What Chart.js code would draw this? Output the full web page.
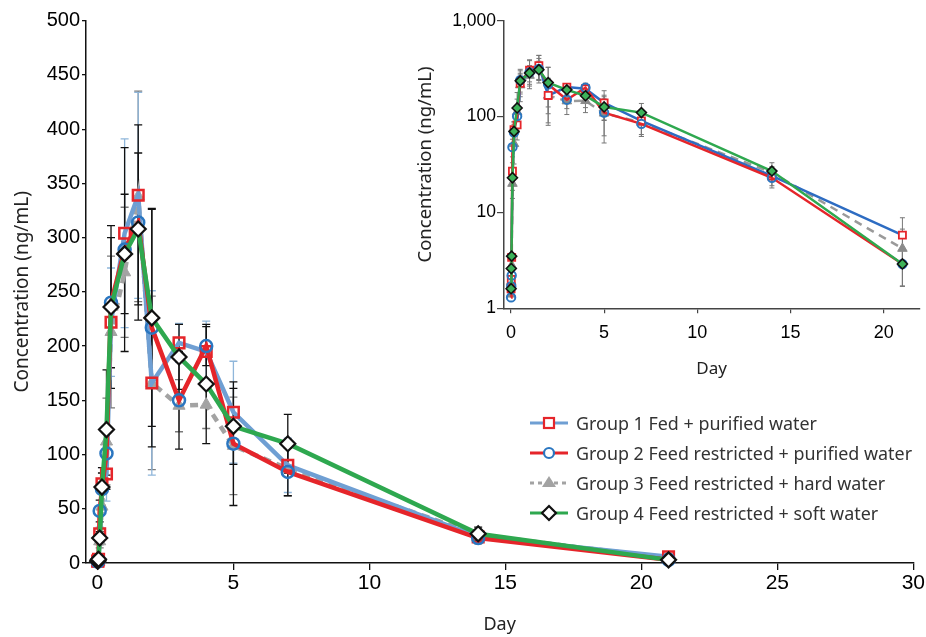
<!DOCTYPE html>
<html><head><meta charset="utf-8">
<script src="https://cdn.jsdelivr.net/npm/chart.js@4.4.1/dist/chart.umd.min.js"></script>
<style>
body{margin:0;background:#fff}
#wrap{position:relative;width:926px;height:637px;overflow:hidden}
#main{position:absolute;left:0;top:0}
#inset{position:absolute;left:400px;top:0}
#legend{position:absolute;left:530px;top:408px;font-family:'Noto Sans',sans-serif;font-size:17.9px;color:#333}
.row{height:30px;display:flex;align-items:center;white-space:nowrap}
.row svg{margin-right:8px;flex:none}
</style></head>
<body><div id="wrap">
<canvas id="main" width="926" height="637"></canvas>
<canvas id="inset" width="526" height="390"></canvas>
<div id="legend"></div>
</div>
<script>
// ---- data ----
const days = [0.0104, 0.0208, 0.0417, 0.0833, 0.1667, 0.3333, 0.5, 1, 1.5, 2, 3, 4, 5, 7, 14, 21];
const group1 = [1.6, 2.0, 3.4, 27, 73, 82, 222, 304, 339, 166, 203, 195, 139, 90, 24, 5.8];
const group2 = [1.3, 1.7, 2.2, 48, 68, 101, 240, 289, 314, 217, 150, 200, 110, 84, 23, 2.9];
const group3 = [1.4, 1.9, 2.8, 20, 52, 112, 213, 268, 338, 166, 145, 146, 108, 87, 26, 4.2];
const group4 = [1.6, 2.6, 3.5, 23, 70, 123, 236, 285, 308, 226, 190, 165, 126, 110, 27, 2.9];
const sd1 = [0.3, 0.4, 0.6, 6, 15, 25, 50, 87, 95, 85, 18, 28, 47, 25, 5, 3];
const sd2 = [0.2, 0.3, 0.5, 10, 15, 20, 60, 94, 90, 110, 45, 18, 57, 22, 5, 1.2];
const sd3 = [0.3, 0.4, 0.5, 6, 20, 40, 70, 60, 97, 80, 24, 22, 45, 25, 4, 2.5];
const sd4 = [0.3, 0.4, 0.6, 6, 18, 55, 75, 55, 70, 100, 30, 55, 35, 27, 6, 1.2];
const groupLabels = ['Group 1 Fed + purified water', 'Group 2 Feed restricted + purified water',
  'Group 3 Feed restricted + hard water', 'Group 4 Feed restricted + soft water'];
const mainXTicks = [0, 5, 10, 15, 20, 25, 30];
const mainYTicks = [0, 50, 100, 150, 200, 250, 300, 350, 400, 450, 500];
const insetXTicks = [0, 5, 10, 15, 20];
const insetYTicks = [1, 10, 100, 1000];

const pts = arr => days.map((d, i) => ({x: d, y: arr[i]}));
const COL = {lblue:'#6f9fd3', red:'#e5252a', gray:'#a3a3a3', green:'#2ea84f', blue:'#2a76c0', dblue:'#2d6cc2'};

const errorBars = {
  id: 'errorBars',
  beforeDatasetsDraw(chart, args, opts) {
    const ctx = chart.ctx, xs = chart.scales.x, ys = chart.scales.y;
    ctx.save();
    opts.sets.forEach(set => {
      ctx.strokeStyle = set.color; ctx.lineWidth = opts.width;
      days.forEach((d, i) => {
        if (i < opts.from) return;
        let lo = set.vals[i] - set.sd[i], hi = set.vals[i] + set.sd[i];
        if (ys.type === 'logarithmic') lo = Math.max(lo, ys.min);
        const x = xs.getPixelForValue(d), y1 = ys.getPixelForValue(lo), y2 = ys.getPixelForValue(hi);
        ctx.beginPath();
        ctx.moveTo(x, y1); ctx.lineTo(x, y2);
        ctx.moveTo(x - opts.cap, y1); ctx.lineTo(x + opts.cap, y1);
        ctx.moveTo(x - opts.cap, y2); ctx.lineTo(x + opts.cap, y2);
        ctx.stroke();
      });
    });
    ctx.restore();
  }
};

function ds(label, arr, line, marker, style, r, bw, fill, dash, lw, order) {
  return {label, data: pts(arr), showLine: true, borderColor: line, borderWidth: lw, borderDash: dash,
    pointStyle: style, pointRadius: r, pointBorderColor: marker, pointBorderWidth: bw,
    pointBackgroundColor: fill, backgroundColor: fill, clip: false, order, tension: 0};
}

// ---- main chart ----
new Chart(document.getElementById('main'), {
  type: 'scatter',
  data: {datasets: [
    ds(groupLabels[0], group1, COL.lblue, COL.red, 'rect', 7.5, 2.5, 'rgba(0,0,0,0)', [], 4.5, 2),
    ds(groupLabels[1], group2, COL.red, COL.blue, 'circle', 6, 2.5, 'rgba(0,0,0,0)', [], 4.5, 1),
    ds(groupLabels[2], group3, COL.gray, COL.gray, 'triangle', 7, 1, COL.gray, [8, 6], 4.5, 3),
    ds(groupLabels[3], group4, COL.green, '#111', 'rectRot', 7.5, 2.2, '#fff', [], 4.5, 0)
  ]},
  options: {
    responsive: false, animation: false, events: [],
    layout: {padding: {left: 0, right: 12.5, top: 20.7, bottom: 0}},
    plugins: {
      legend: {display: false}, tooltip: {enabled: false},
      errorBars: {from: 3, width: 1.3, cap: 4, sets: [
        {vals: group3, sd: sd3, color: '#7a7a7a'},
        {vals: group1, sd: sd1, color: '#8fb6da'},
        {vals: group2, sd: sd2, color: '#111'},
        {vals: group4, sd: sd4, color: '#111'}]}
    },
    scales: {
      x: {type: 'linear', min: -0.42, max: 30,
        afterBuildTicks: s => { s.ticks = mainXTicks.map(v => ({value: v})); },
        afterFit: s => { s.height = 74; },
        grid: {drawOnChartArea: false, tickLength: 7, color: '#111', lineWidth: 1.3},
        border: {color: '#111', width: 1.5},
        ticks: {padding: 1, color: '#000', maxRotation: 0, autoSkip: false,
          font: {family: "'Liberation Sans Narrow','Liberation Sans',Arial", size: 21}},
        title: {display: true, text: 'Day', color: '#222', padding: {top: 0, bottom: 1},
          font: {family: "'Noto Sans',sans-serif", size: 18}}
      },
      y: {type: 'linear', min: 0, max: 500,
        afterBuildTicks: s => { s.ticks = mainYTicks.map(v => ({value: v})); },
        afterFit: s => { s.width = 86; },
        grid: {drawOnChartArea: false, tickLength: 4, color: '#111', lineWidth: 1.3},
        border: {color: '#111', width: 1.5},
        ticks: {padding: 2, color: '#000', font: {family: "'Liberation Sans',Arial", size: 20}},
        title: {display: true, text: 'Concentration (ng/mL)', color: '#222', padding: {top: 11, bottom: 0},
          font: {family: "'Noto Sans',sans-serif", size: 19}}
      }
    }
  },
  plugins: [errorBars]
});

// ---- inset (log scale) ----
new Chart(document.getElementById('inset'), {
  type: 'scatter',
  data: {datasets: [
    ds(groupLabels[0], group1, COL.dblue, COL.red, 'rect', 5, 1.8, '#fff', [], 2.5, 2),
    ds(groupLabels[1], group2, COL.red, COL.blue, 'circle', 4.2, 2, 'rgba(0,0,0,0)', [], 2.5, 1),
    ds(groupLabels[2], group3, '#9a9a9a', '#8a8a8a', 'triangle', 5.5, 1, '#8a8a8a', [8, 6], 2.5, 3),
    ds(groupLabels[3], group4, COL.green, '#111', 'rectRot', 5, 1.6, '#3db35a', [], 2.5, 0)
  ]},
  options: {
    responsive: false, animation: false, events: [],
    layout: {padding: {left: 0, right: 1, top: 20.7, bottom: 0}},
    plugins: {
      legend: {display: false}, tooltip: {enabled: false},
      errorBars: {from: 3, width: 1, cap: 2.5, sets: [
        {vals: group1, sd: sd1, color: '#777'},
        {vals: group2, sd: sd2, color: '#777'},
        {vals: group3, sd: sd3, color: '#777'},
        {vals: group4, sd: sd4, color: '#777'}]}
    },
    scales: {
      x: {type: 'linear', min: -0.37, max: 21.9,
        afterBuildTicks: s => { s.ticks = insetXTicks.map(v => ({value: v})); },
        afterFit: s => { s.height = 81.7; },
        grid: {drawOnChartArea: false, tickLength: 5, color: '#444', lineWidth: 1.2},
        border: {color: '#444', width: 1.5},
        ticks: {padding: 9, color: '#000', maxRotation: 0, autoSkip: false,
          font: {family: "'Liberation Sans',Arial", size: 18}},
        title: {display: true, text: 'Day', color: '#222', padding: {top: 0, bottom: 11},
          font: {family: "'Noto Sans',sans-serif", size: 17}}
      },
      y: {type: 'logarithmic', min: 1, max: 1000,
        afterBuildTicks: s => { s.ticks = insetYTicks.map(v => ({value: v})); },
        afterFit: s => { s.width = 104; },
        grid: {drawOnChartArea: false, tickLength: 7, color: '#444', lineWidth: 1.2},
        border: {color: '#444', width: 1.5},
        ticks: {padding: 1, color: '#000', callback: v => Number(v).toLocaleString('en-US'),
          font: {family: "'Liberation Sans',Arial", size: 17.5}},
        title: {display: true, text: 'Concentration (ng/mL)', color: '#222', padding: {top: 15, bottom: 0},
          font: {family: "'Noto Sans',sans-serif", size: 18.5}}
      }
    }
  },
  plugins: [errorBars]
});

// ---- legend (HTML) ----
const symbols = [
  `<line x1="0" y1="10" x2="38" y2="10" stroke="${COL.lblue}" stroke-width="3"/><rect x="14" y="5" width="10" height="10" fill="#fff" stroke="${COL.red}" stroke-width="2.2"/>`,
  `<line x1="0" y1="10" x2="38" y2="10" stroke="${COL.red}" stroke-width="3"/><circle cx="19" cy="10" r="5" fill="#fff" stroke="${COL.blue}" stroke-width="2.2"/>`,
  `<line x1="0" y1="10" x2="38" y2="10" stroke="${COL.gray}" stroke-width="3" stroke-dasharray="4 4"/><polygon points="19,3 26,14 12,14" fill="${COL.gray}"/>`,
  `<line x1="0" y1="10" x2="38" y2="10" stroke="${COL.green}" stroke-width="3"/><polygon points="19,3 26,10 19,17 12,10" fill="#fff" stroke="#111" stroke-width="2.2"/>`
];
document.getElementById('legend').innerHTML = groupLabels.map((t, i) =>
  `<div class="row"><svg width="38" height="20">${symbols[i]}</svg><span>${t}</span></div>`).join('');
</script>
</body></html>
